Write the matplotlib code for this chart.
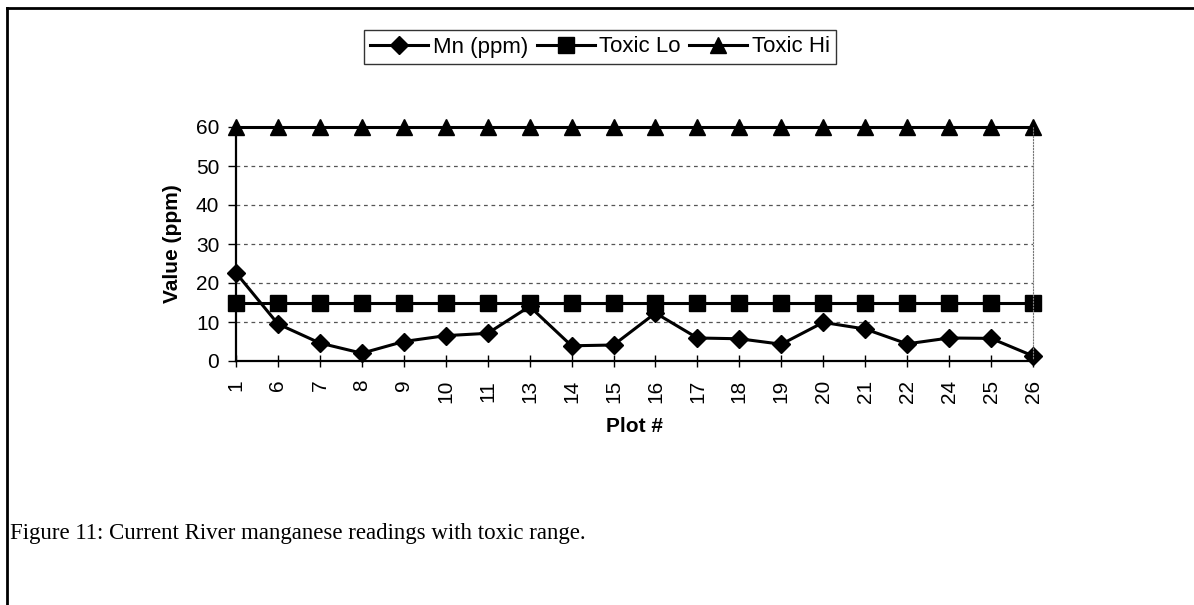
import numpy as np
import matplotlib.pyplot as plt
from matplotlib.lines import Line2D

plt.rcParams['font.family'] = 'Liberation Sans'
plt.rcParams['font.size'] = 15

# plot numbers along the river and manganese readings
plots = ['1', '6', '7', '8', '9', '10', '11', '13', '14', '15', '16',
         '17', '18', '19', '20', '21', '22', '24', '25', '26']
mn_ppm = [22.6, 9.5, 4.6, 2.0, 5.0, 6.5, 7.1, 14.0, 3.9, 4.1, 12.3,
          5.9, 5.7, 4.3, 9.9, 8.2, 4.4, 5.9, 5.8, 1.3]
toxic_lo = [15] * len(plots)
toxic_hi = [60] * len(plots)

x = np.arange(len(plots))

fig = plt.figure(figsize=(11.94, 6.05), dpi=100)
ax = fig.add_axes([236/1194, 1-361/605, (1033-236)/1194, (361-127)/605])

l1, = ax.plot(x, mn_ppm, color='black', lw=2.2, marker='D', ms=9, clip_on=False, label='Mn (ppm)')
l2, = ax.plot(x, toxic_lo, color='black', lw=2.2, marker='s', ms=11, clip_on=False, label='Toxic Lo')
l3, = ax.plot(x, toxic_hi, color='black', lw=2.2, marker='^', ms=12, clip_on=False, label='Toxic Hi')

ax.set_xlim(0, len(plots) - 1)
ax.set_ylim(0, 60)
ax.set_yticks(range(0, 61, 10))
ax.set_xticks(x)
ax.set_xticklabels(plots, rotation=90)

# dashed gridlines
for v in range(10, 60, 10):
    ax.axhline(v, color='#555555', lw=0.9, ls=(0, (3, 3)), zorder=0)

ax.spines['top'].set_visible(False)
ax.spines['right'].set_color('#777777')
ax.spines['right'].set_linestyle(':')
ax.spines['left'].set_linewidth(1.6)
ax.spines['bottom'].set_linewidth(1.6)
ax.tick_params(axis='x', direction='inout', length=9, width=1, pad=9)
ax.tick_params(axis='y', direction='out', length=6, width=1, pad=6)

ax.set_ylabel('Value (ppm)', fontweight='bold', labelpad=10)
ax.set_xlabel('Plot #', fontweight='bold', labelpad=10)

fig.legend(handles=[l1, l2, l3], loc='center', bbox_to_anchor=(600/1194, 1-47/605),
           ncol=3, frameon=True, fancybox=False, edgecolor='black', fontsize=16,
           handlelength=2.6, handletextpad=0.2, columnspacing=0.4, borderpad=0.3,
           borderaxespad=0)

# page frame and caption
fig.add_artist(Line2D([7/1194, 1], [1-8/605, 1-8/605], color='black', lw=2))
fig.add_artist(Line2D([7/1194, 7/1194], [0, 1-8/605], color='black', lw=2))
fig.text(10/1194, 1-533/605, 'Figure 11: Current River manganese readings with toxic range.',
         family='Liberation Serif', fontsize=16.5, va='center', ha='left')

fig.savefig('out.png', dpi=100)
